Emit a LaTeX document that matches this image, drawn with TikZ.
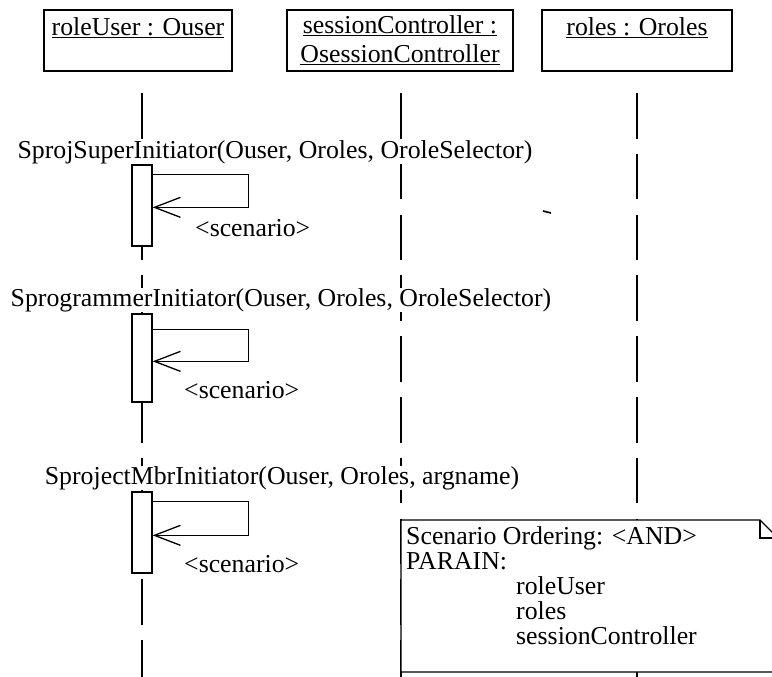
\documentclass[tikz,border=0pt]{standalone}
\usepackage{fontspec}
\setmainfont{Liberation Serif}
\usetikzlibrary{arrows.meta}
\begin{document}
\begin{tikzpicture}[x=1pt,y=-1pt,
  txt/.style={font=\fontsize{25.8}{30}\selectfont, inner sep=1pt},
  objbox/.style={draw, line width=1.3pt, minimum width=#1, minimum height=61pt, inner sep=0pt},
  life/.style={line width=1.4pt, dash pattern=on 45.5pt off 15.3pt},
  bar/.style={draw, fill=white, line width=1.3pt, minimum width=20pt, minimum height=#1, inner sep=0pt},
  msg/.style={line width=1.3pt, -{Straight Barb[length=26pt,width=20pt,line width=1.3pt]}},
  msglbl/.style={txt, fill=white, inner sep=0.5pt},
  notebox/.style={draw, fill=white, line width=1.3pt}]
\useasboundingbox (0,0) rectangle (772,677);
\clip (0,0) rectangle (772,677);
\fill[white] (0,0) rectangle (772,677);

% object boxes
\node[objbox=188pt] (u) at (138,40.5) {};
\node[txt, anchor=north] (ut) at (u.north) [yshift=-7pt] {\underline{roleUser : Ouser}};
\node[objbox=226pt] (s) at (400,40.5) {};
\node[txt, anchor=north, align=center] (st) at (s.north) [yshift=-5pt] {\underline{sessionController :}\\[-1pt]\underline{OsessionController}};
\node[objbox=190pt] (r) at (637,40.5) {};
\node[txt, anchor=north] (rt) at (r.north) [yshift=-7pt] {\underline{roles : Oroles}};

% lifelines
\coordinate (l1a) at (142,93); \coordinate (l1b) at (142,690);
\coordinate (l2a) at (401,93); \coordinate (l2b) at (401,690);
\coordinate (l3a) at (637,93); \coordinate (l3b) at (637,690);
\draw[life] (l1a) -- (l1b);
\draw[life] (l2a) -- (l2b);
\draw[life] (l3a) -- (l3b);

% message labels
\node[msglbl] (m1) at (275,152) {SprojSuperInitiator(Ouser, Oroles, OroleSelector)};
\node[msglbl] (m2) at (281,300) {SprogrammerInitiator(Ouser, Oroles, OroleSelector)};
\node[msglbl] (m3) at (282,478) {SprojectMbrInitiator(Ouser, Oroles, argname)};

% activation bars
\node[bar=81pt] (b1) at (142,205.5) {};
\node[bar=88pt] (b2) at (142,358) {};
\node[bar=81pt] (b3) at (142,532.5) {};

% self messages
\coordinate (c1) at ([xshift=96pt]b1.north east);
\draw[msg] ([yshift=-10pt]b1.north east) -- ([yshift=-10pt]c1) -- ([yshift=-43pt]c1) -- ([yshift=-43pt]b1.north east);
\coordinate (c2) at ([xshift=96pt]b2.north east);
\draw[msg] ([yshift=-16pt]b2.north east) -- ([yshift=-16pt]c2) -- ([yshift=-48pt]c2) -- ([yshift=-48pt]b2.north east);
\coordinate (c3) at ([xshift=96pt]b3.north east);
\draw[msg] ([yshift=-10pt]b3.north east) -- ([yshift=-10pt]c3) -- ([yshift=-44pt]c3) -- ([yshift=-44pt]b3.north east);

\node[txt, anchor=west] (sc1) at (194,228) {<scenario>};
\node[txt, anchor=west] (sc2) at (183,390) {<scenario>};
\node[txt, anchor=west] (sc3) at (183,564) {<scenario>};

% stray mark
\draw[line width=1.6pt] (543,211) -- (551,213);

% note
\coordinate (n1) at (401,520); \coordinate (n2) at (760,520);
\coordinate (n3) at (778,538); \coordinate (n4) at (778,672);
\coordinate (n5) at (401,672);
\draw[notebox] (n1) -- (n2) -- (n3) -- (n4) -- (n5) -- cycle;
\draw[line width=1.3pt] (n2) -- (760,538) -- (n3);
\node[txt, anchor=north west, align=left, font=\fontsize{25.8}{25}\selectfont] (nt) at (405,525)
 {Scenario Ordering: <AND>\\
  PARAIN:\\
  \hspace*{110pt}roleUser\\
  \hspace*{110pt}roles\\
  \hspace*{110pt}sessionController};
\end{tikzpicture}
\end{document}
